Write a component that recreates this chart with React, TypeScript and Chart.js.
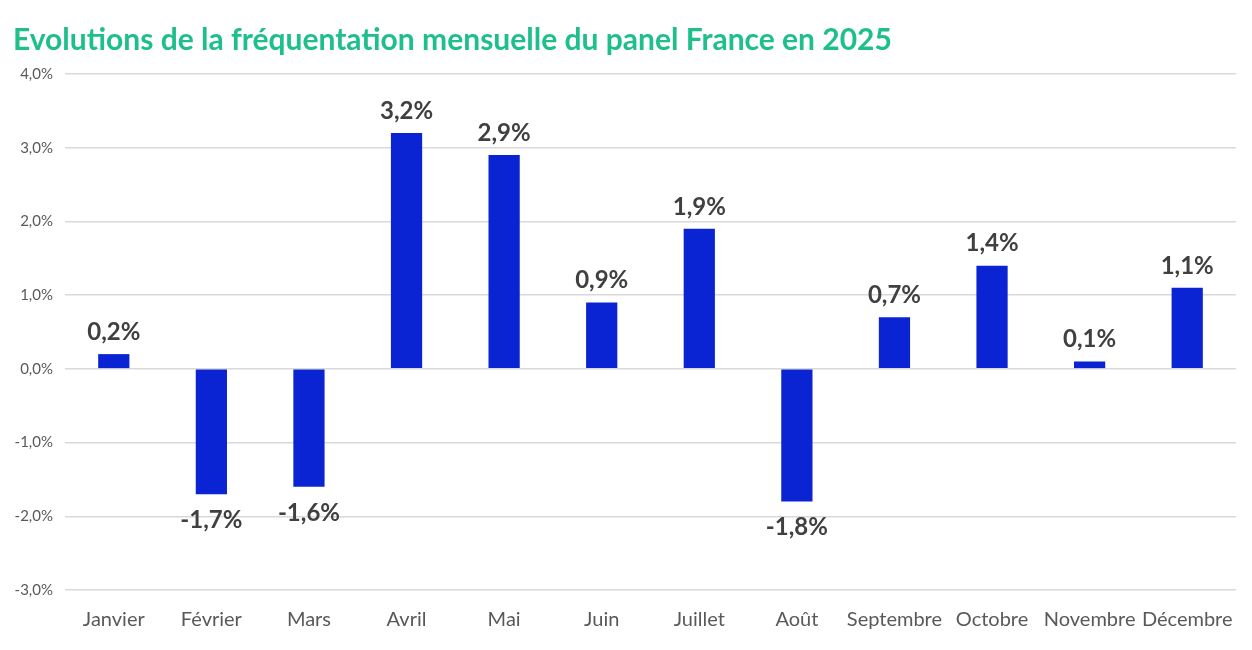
import { useEffect, useRef } from "react";
import { Chart, registerables, Plugin } from "chart.js";

Chart.register(...registerables);

const months = [
  "Janvier",
  "Février",
  "Mars",
  "Avril",
  "Mai",
  "Juin",
  "Juillet",
  "Août",
  "Septembre",
  "Octobre",
  "Novembre",
  "Décembre",
];
const evolution = [0.2, -1.7, -1.6, 3.2, 2.9, 0.9, 1.9, -1.8, 0.7, 1.4, 0.1, 1.1];
const titleText = "Evolutions de la fréquentation mensuelle du panel France en 2025";

const fmt = (v: number) => v.toFixed(1).replace(".", ",") + "%";

// values over / under each bar
const barLabels: Plugin<"bar"> = {
  id: "barLabels",
  afterDatasetsDraw(chart) {
    const ctx = chart.ctx;
    const meta = chart.getDatasetMeta(0);
    ctx.save();
    ctx.font = "bold 24px Lato";
    ctx.fillStyle = "#404040";
    ctx.textAlign = "center";
    meta.data.forEach((bar, i) => {
      const v = evolution[i];
      const { x, y } = bar.getProps(["x", "y"], true) as { x: number; y: number };
      if (v >= 0) {
        ctx.textBaseline = "bottom";
        ctx.fillText(fmt(v), x, y - 10);
      } else {
        ctx.textBaseline = "top";
        ctx.fillText(fmt(v), x, y + 14);
      }
    });
    ctx.restore();
  },
};

const App = () => {
  const chartRef = useRef<Chart | null>(null);
  const chartCanvas = useRef<HTMLCanvasElement | null>(null);

  useEffect(() => {
    if (chartRef.current) {
      chartRef.current.destroy();
    }
    const context = chartCanvas.current?.getContext("2d");
    if (context) {
      chartRef.current = new Chart(context, {
        type: "bar",
        data: {
          labels: months,
          datasets: [
            {
              data: evolution,
              backgroundColor: "#0a24d4",
              barPercentage: 0.32,
              categoryPercentage: 1,
            },
          ],
        },
        options: {
          animation: false,
          responsive: true,
          maintainAspectRatio: false,
          layout: { padding: { top: 22, left: 13, right: 16, bottom: 8 } },
          plugins: {
            legend: { display: false },
            tooltip: { enabled: false },
            title: {
              display: true,
              text: titleText,
              align: "start",
              color: "#1fbf8c",
              font: { family: "Lato", size: 30, weight: "bold" },
              padding: { top: 0, bottom: 16 },
            },
          },
          scales: {
            x: {
              grid: { display: false },
              border: { display: false },
              ticks: {
                color: "#595959",
                font: { family: "Lato", size: 20 },
                padding: 10,
                maxRotation: 0,
                autoSkip: false,
              },
            },
            y: {
              min: -3,
              max: 4,
              afterFit: (scale) => {
                scale.width = 52;
              },
              grid: { color: "#d9d9d9", lineWidth: 1.5, drawTicks: false },
              border: { display: false },
              ticks: {
                stepSize: 1,
                color: "#595959",
                font: { family: "Lato", size: 15 },
                padding: 12,
                callback: (v) => fmt(Number(v)),
              },
            },
          },
        },
        plugins: [barLabels],
      });
    }
    return () => {
      if (chartRef.current) {
        chartRef.current.destroy();
        chartRef.current = null;
      }
    };
  }, []);

  return (
    <div style={{ position: "fixed", left: 0, top: 0, width: 1252, height: 650, background: "#fff" }}>
      <canvas ref={chartCanvas}></canvas>
    </div>
  );
};

export default App;
